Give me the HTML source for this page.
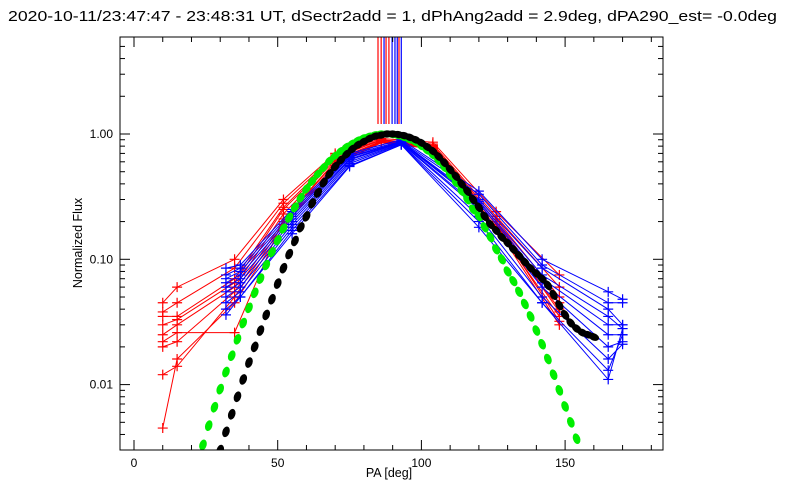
<!DOCTYPE html>
<html><head><meta charset="utf-8"><style>
html,body{margin:0;padding:0;background:#fff;}
svg{display:block;font-family:"Liberation Sans",sans-serif;}
</style></head><body>
<svg id="chart" width="800" height="500" viewBox="0 0 800 500" xmlns="http://www.w3.org/2000/svg">
<rect x="0" y="0" width="800" height="500" fill="#fff"/>
<text x="8" y="21" font-size="14.5" textLength="769" lengthAdjust="spacingAndGlyphs">2020-10-11/23:47:47 - 23:48:31 UT, dSectr2add = 1, dPhAng2add = 2.9deg, dPA290_est= -0.0deg</text>
<g id="marks"></g>
<g id="axes"></g>
<text x="389" y="477" font-size="12.5" text-anchor="middle">PA [deg]</text>
<text x="82" y="243" font-size="12.5" text-anchor="middle" transform="rotate(-90 82 243)">Normalized Flux</text>
</svg>
<script>
// ---- data ----
const greenPA = [24,26,28,30,32,34,36,38,40,42,44,46,48,50,52,54,56,58,60,62,64,66,68,70,72,74,76,78,80,82,84,86,88,90,92,94,96,98,100,102,104,106,108,110,112,114,116,118,120,122,124,126,128,130,132,134,136,138,140,142,144,146,148,150,152,154];
const greenFlux = [.0033,.0047,.0066,.0092,.0126,.017,.023,.031,.041,.054,.07,.09,.114,.142,.176,.215,.26,.31,.365,.42,.48,.54,.61,.67,.73,.79,.84,.89,.93,.96,.985,1.0,1.0,.99,.97,.94,.9,.86,.8,.74,.68,.61,.54,.47,.41,.35,.3,.25,.22,.18,.15,.12,.1,.08,.067,.055,.044,.035,.027,.021,.016,.012,.009,.0067,.005,.0037];
const blackPA = [30,32,34,36,38,40,42,44,46,48,50,52,54,56,58,60,62,64,66,68,70,72,74,76,78,80,82,84,86,88,90,92,94,96,98,100,102,104,106,108,110,112,114,116,118,120,122,124,126,128,130,132,134,136,138,140,142,144,146,148,150,152,154,156,158,160];
const blackFlux = [.003,.0042,.0058,.008,.011,.015,.02,.027,.036,.048,.064,.085,.11,.14,.18,.22,.28,.34,.41,.48,.55,.62,.69,.76,.82,.87,.92,.96,.98,1.0,1.0,.99,.97,.94,.9,.85,.79,.73,.66,.59,.52,.46,.4,.35,.3,.26,.22,.19,.17,.15,.135,.12,.107,.095,.085,.077,.07,.062,.052,.043,.036,.031,.028,.026,.025,.024];
const redPA = [10,15,35,52,70,86,104,126,148];
const redScans = [
 [.045,.06,.1,.3,.7,.92,.86,.24,.075],
 [.038,.045,.085,.28,.68,.9,.83,.22,.06],
 [.035,.035,.07,.26,.66,.89,.81,.21,.05],
 [.03,.033,.065,.25,.64,.9,.8,.2,.045],
 [.025,.03,.06,.23,.62,.88,.79,.19,.04],
 [.022,.026,.026,.21,.6,.87,.78,.18,.035],
 [.02,.022,.055,.2,.6,.87,.78,.2,.038],
 [.012,.014,.05,.19,.58,.86,.77,.19,.032],
 [.0045,.016,.045,.18,.56,.85,.76,.18,.03]
];
const bluePA = [32,37,55,75,93,120,142,165,170];
const blueScans = [
 [.085,.09,.25,.7,.9,.35,.1,.055,.048],
 [.075,.085,.24,.68,.88,.33,.09,.045,.045],
 [.07,.08,.23,.66,.87,.3,.085,.04,.03],
 [.065,.075,.22,.65,.86,.29,.075,.035,.028],
 [.06,.07,.21,.63,.86,.28,.07,.03,.03],
 [.055,.065,.2,.62,.85,.26,.065,.025,.025],
 [.05,.06,.19,.6,.84,.25,.06,.02,.022],
 [.045,.055,.18,.58,.83,.22,.05,.016,.021],
 [.04,.05,.17,.56,.82,.2,.045,.013,.025],
 [.036,.05,.16,.55,.82,.18,.045,.011,.028]
];
const redMarkPA = [84.9,86.0,87.7,88.7,92.2];
const blueMarkPA = [87.0,89.8,90.8,91.6,93.0];
const xTicks = [0,50,100,150];
const yTicks = [0.01,0.1,1];
const yTickLabels = ["0.01","0.10","1.00"];

// ---- axes ----
const L=120,R=663,T=37,B=450;
const X0=134, XS=2.874;
function xp(d){return X0+XS*d;}
const Y1=134, YS=125.3;
function yp(v){return Y1-YS*Math.log10(v);}
const NS="http://www.w3.org/2000/svg";
const marks=document.getElementById('marks'), axes=document.getElementById('axes');
function el(tag,attrs,parent){const e=document.createElementNS(NS,tag);for(const k in attrs)e.setAttribute(k,attrs[k]);parent.appendChild(e);return e;}

const clip=el('clipPath',{id:'pc'},document.getElementById('chart'));
el('rect',{x:L,y:T,width:R-L,height:B-T},clip);
const g=el('g',{'clip-path':'url(#pc)'},marks);

function plus(x,y,c,parent){
  return el('path',{d:`M${x-5},${y}H${x+5}M${x},${y-5}V${y+5}`,stroke:c,'stroke-width':1.2,fill:'none'},parent);
}
function drawScans(pa,scans,color,nm){
  scans.forEach((s,i)=>{
    const sg=el('g',{},g);
    
    
    const pts=s.map((v,j)=>xp(pa[j]).toFixed(1)+','+yp(v).toFixed(1)).join(' ');
    el('polyline',{points:pts,fill:'none',stroke:color,'stroke-width':1},sg);
    s.forEach((v,j)=>plus(xp(pa[j]),yp(v),color,sg));
  });
}
drawScans(redPA,redScans,'#ff0000','red');
drawScans(bluePA,blueScans,'#0000ff','blue');

function drawDots(pa,vals,color,nm){
  const dg=el('g',{},g);
  
  
  for(let i=0;i<pa.length;i++){
    const a=Math.max(0,i-1),b=Math.min(pa.length-1,i+1);
    const ang=Math.atan2(yp(vals[b])-yp(vals[a]),xp(pa[b])-xp(pa[a]))*180/Math.PI;
    const x=xp(pa[i]),y=yp(vals[i]);
    el('ellipse',{cx:x,cy:y,rx:5.5,ry:3.6,fill:color,transform:`rotate(${ang} ${x} ${y})`},dg);
  }
}
drawDots(greenPA,greenFlux,'#00ee00','green-model-curve');
drawDots(blackPA,blackFlux,'#000000','black-fit-curve');

function vmarks(arr,color,nm){
  arr.forEach((d,i)=>{
    const l=el('line',{x1:xp(d),x2:xp(d),y1:T,y2:124,stroke:color,'stroke-width':1.2},g);
    
    
  });
}
vmarks(redMarkPA,'#ff0000','red-pa-marker');
vmarks(blueMarkPA,'#0000ff','blue-pa-marker');

const fr=el('rect',{x:L,y:T,width:R-L,height:B-T,fill:'none',stroke:'#000','stroke-width':1},axes);


for(let d=0;d<=180;d+=10){
  const major=d%50===0, len=major?10:5, x=xp(d);
  el('line',{x1:x,x2:x,y1:B,y2:B-len,stroke:'#000'},axes);
  el('line',{x1:x,x2:x,y1:T,y2:T+len,stroke:'#000'},axes);
}
xTicks.forEach(d=>{
  const t=el('text',{x:xp(d),y:467,'font-size':12,'text-anchor':'middle'},axes);
  t.textContent=String(d);
  
  
});
for(let e=-3;e<=0;e++){
  for(let m=1;m<=9;m++){
    const v=m*Math.pow(10,e); const y=yp(v);
    if(y<T||y>B)continue;
    const len=m===1?10:5;
    el('line',{x1:L,x2:L+len,y1:y,y2:y,stroke:'#000'},axes);
    el('line',{x1:R,x2:R-len,y1:y,y2:y,stroke:'#000'},axes);
  }
}
yTicks.forEach((v,i)=>{
  const t=el('text',{x:113,y:yp(v)+4,'font-size':12,'text-anchor':'end'},axes);
  t.textContent=yTickLabels[i];
  
  
});
</script>
</body></html>
